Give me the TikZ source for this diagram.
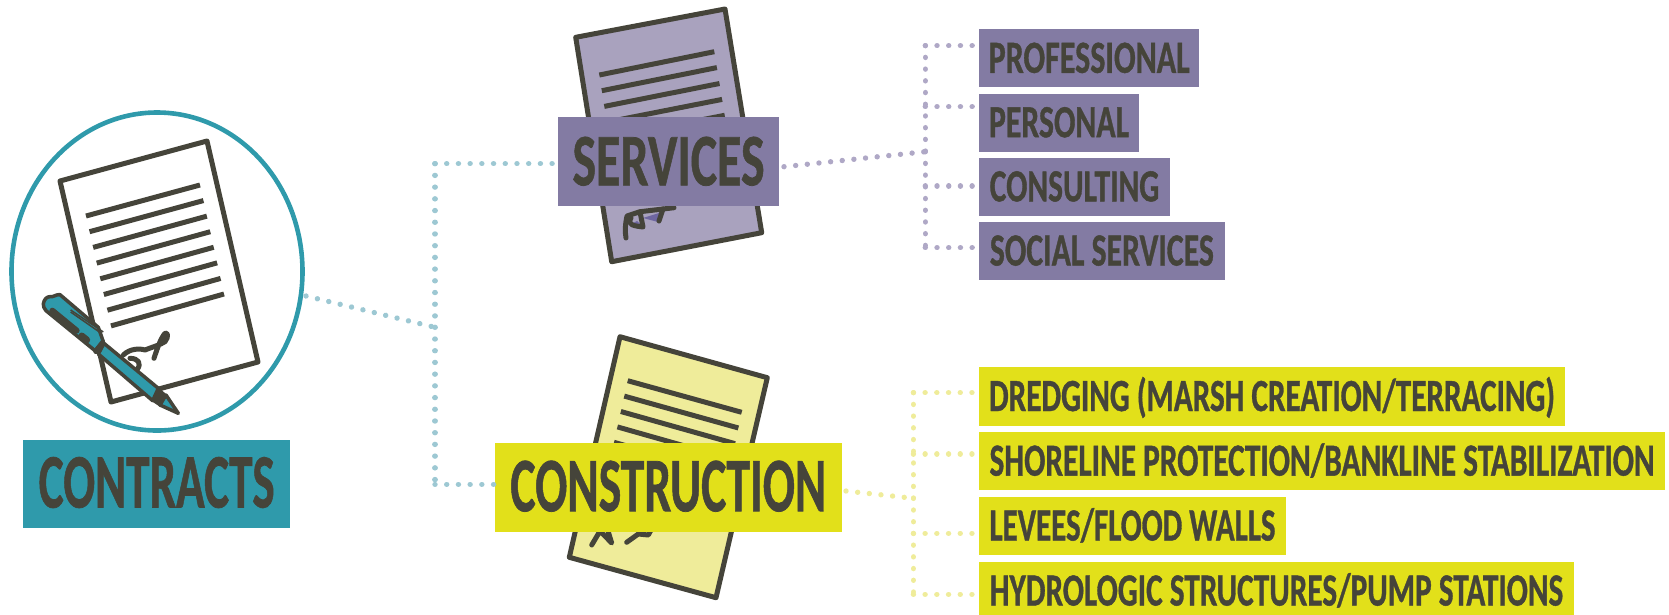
\documentclass[tikz,border=0pt]{standalone}
\usepackage{graphicx}
\usepackage{fontspec}
\setmainfont{Carlito}[BoldFeatures={FakeBold=1}]
\usetikzlibrary{shapes.geometric}
\definecolor{ink}{HTML}{45443A}
\definecolor{teal}{HTML}{2F9AAB}
\definecolor{tealdot}{HTML}{9DC8D3}
\definecolor{purp}{HTML}{837BA3}
\definecolor{purpdot}{HTML}{AFA8C6}
\definecolor{purplight}{HTML}{A9A2BE}
\definecolor{purpwedge}{HTML}{6E66A0}
\definecolor{yell}{HTML}{E2E01A}
\definecolor{yelllight}{HTML}{EFEC9A}
\newcommand{\fitlbl}[3]{\resizebox{#1pt}{\height}{\fontsize{#2}{#2}\selectfont\bfseries #3}}
\tikzset{
  tagbox/.style={rectangle,inner sep=0pt,outer sep=0pt,text=ink,anchor=center},
  smalltag/.style={tagbox,text height=29pt,text depth=0pt},
  bigtag/.style={tagbox,text height=47pt,text depth=0pt},
  dotline/.style={line width=5.4pt,line cap=round,dash pattern=on 0.01pt off 11.7pt},
  sheet/.style={draw=ink,line width=5pt,line join=round},
  rule/.style={draw=ink,line width=5pt},
  scrawl/.style={draw=ink,line width=5pt,line cap=round,line join=round},
  penpart/.style={draw=ink,line width=3.5pt,line join=round,fill=teal},
}
\begin{document}
\begin{tikzpicture}[x=1pt,y=-1pt]
\useasboundingbox (0,0) rectangle (1669,614);
% ---- contracts seal
\node[ellipse,draw=teal,line width=4.6pt,minimum width=291pt,minimum height=318pt,inner sep=0pt,outer sep=0pt] (seal) at (157,271.5) {};
\draw[sheet,fill=white] (60,181) -- (207,141) -- (258,362) -- (111,402) -- cycle;
\foreach \i in {0,...,7}{
  \draw[rule] ({86+\i*3.57},{216+\i*15.7}) -- ({200+\i*3.43},{185+\i*15.57});
}
\begin{scope}[shift={(30,280)},x=0.3333pt,y=-0.3333pt]
  \draw[scrawl] (280,225) .. controls (300,205) and (330,205) .. (345,210) .. controls (370,200) and (390,195) .. (405,185) .. controls (418,170) and (412,155) .. (405,160) .. controls (392,175) and (382,205) .. (372,235);
  \draw[scrawl] (300,235) .. controls (325,235) and (335,250) .. (322,268);
  \path[penpart] (222,190) -- (385,325) -- (368,362) -- (205,222) -- cycle;
  \path[draw=ink,fill=ink,line width=2pt,line join=round] (385,325) -- (412,350) -- (392,378) -- (368,362) -- cycle;
  \path[penpart] (408,345) -- (445,400) -- (390,375) -- cycle;
  \path[penpart] (40,72) .. controls (42,58) and (50,50) .. (60,50) .. controls (70,52) and (80,42) .. (90,44) -- (205,142) -- (220,185) -- (195,212) -- (48,92) .. controls (42,85) and (40,80) .. (40,72) -- cycle;
  \draw[ink,line width=5.5pt,line cap=round] (218,188) -- (198,214);
  \draw[ink,line width=6pt,line cap=round] (67,92) -- (140,152);
  \draw[ink,line width=7pt,line cap=round] (155,168) -- (170,180);
  \draw[ink,line width=1.5pt] (122,90) -- (220,156);
  \draw[ink,line width=1.5pt] (122,96) -- (214,160);
\end{scope}
% ---- services sheet
\draw[sheet,fill=purplight] (575.7,37.3) -- (725,9) -- (761.7,232.7) -- (611.7,261.7) -- cycle;
\foreach \i in {0,...,4}{
  \draw[rule] ({599.3+\i*2.5},{75+\i*15.7}) -- ({714.3+\i*2.6},{51.7+\i*15.9});
}
\fill[purpwedge] (643,218) -- (659,213) -- (658,222) -- cycle;
\fill[purpwedge] (631,224) -- (637,221) -- (642,226) -- cycle;
\draw[scrawl] (674,207.7) -- (640,211.7) -- (627,216) .. controls (625,225) and (625,232) .. (626,238);
\draw[scrawl] (631,218) .. controls (626,225) and (635,226) .. (643,227) -- (640,212);
\draw[scrawl] (663,209) -- (659,221);
% ---- construction sheet
\draw[sheet,fill=yelllight] (620,336.7) -- (767.3,377.7) -- (716,597.7) -- (569.3,557.3) -- cycle;
\foreach \i in {0,...,4}{
  \draw[rule] ({627.7-\i*3.43},{380.7+\i*15.4}) -- ({741.7-\i*3.33},{412.3+\i*15.67});
}
\draw[scrawl] (591.7,545) -- (600,531) -- (611.7,543) -- (608,531);
\draw[scrawl] (626.7,542.3) -- (638.3,534) -- (648.3,535) -- (651,530);
% ---- junctions
\coordinate (mainfork) at (435,327.3);
\coordinate (maintop) at (435,163.7);
\coordinate (mainbot) at (435,484.3);
\coordinate (sealout) at (306,296);
\coordinate (svcout) at (784,166.7);
\coordinate (svcfork) at (925.3,151.7);
\coordinate (conout) at (846,491);
\coordinate (confork) at (913.4,498.3);
\coordinate (st1) at (925.3,45.7);
\coordinate (st2) at (925.3,106.7);
\coordinate (st3) at (925.3,186);
\coordinate (st4) at (925.3,247.7);
\coordinate (ct1) at (913.4,392.7);
\coordinate (ct2) at (913.4,454);
\coordinate (ct3) at (913.4,533.3);
\coordinate (ct4) at (913.4,594.3);
% ---- boxes
\node[bigtag,fill=teal,minimum width=266.7pt,minimum height=88pt] (contracts) at (156.7,484) {\fitlbl{236}{77}{CONTRACTS}};
\node[bigtag,fill=purp,minimum width=221pt,minimum height=89pt] (services) at (668.5,161.8) {\fitlbl{192}{74}{SERVICES}};
\node[bigtag,fill=yell,minimum width=347.3pt,minimum height=88.7pt] (construction) at (668.35,487.65) {\fitlbl{316}{77}{CONSTRUCTION}};
\node[smalltag,fill=purp,minimum width=220.3pt,minimum height=58pt] (prof) at (1089.15,58.3) {\fitlbl{201}{46}{PROFESSIONAL}};
\node[smalltag,fill=purp,minimum width=160pt,minimum height=58pt] (pers) at (1059,122.7) {\fitlbl{140}{46}{PERSONAL}};
\node[smalltag,fill=purp,minimum width=191pt,minimum height=57.7pt] (cons) at (1074.5,186.85) {\fitlbl{169.5}{46}{CONSULTING}};
\node[smalltag,fill=purp,minimum width=245.7pt,minimum height=58pt] (soc) at (1101.85,251) {\fitlbl{224}{46}{SOCIAL SERVICES}};
\node[smalltag,fill=yell,minimum width=586pt,minimum height=58.4pt] (dred) at (1272,396.5) {\fitlbl{566}{46}{DREDGING (MARSH CREATION/TERRACING)}};
\node[smalltag,fill=yell,minimum width=686pt,minimum height=57.7pt] (shore) at (1322,461.15) {\fitlbl{665}{46}{SHORELINE PROTECTION/BANKLINE STABILIZATION}};
\node[smalltag,fill=yell,minimum width=307pt,minimum height=58pt] (lev) at (1132.5,526) {\fitlbl{286}{46}{LEVEES/FLOOD WALLS}};
\node[smalltag,fill=yell,minimum width=595pt,minimum height=58pt] (hyd) at (1276.5,591) {\fitlbl{573.5}{46}{HYDROLOGIC STRUCTURES/PUMP STATIONS}};
% ---- connectors
\draw[tealdot,dotline] (sealout) -- (mainfork);
\draw[tealdot,dotline] (maintop) -- (mainfork);
\draw[tealdot,dotline] (mainfork) -- (mainbot);
\draw[tealdot,dotline] (maintop) -- (maintop -| services.west);
\draw[tealdot,dotline] (mainbot) -- (mainbot -| construction.west);
\draw[purpdot,dotline] (svcout) -- (svcfork);
\draw[purpdot,dotline] (st1) -- (svcfork);
\draw[purpdot,dotline] (svcfork) -- (st4);
\draw[purpdot,dotline] (st1) -- (st1 -| prof.west);
\draw[purpdot,dotline] (st2) -- (st2 -| pers.west);
\draw[purpdot,dotline] (st3) -- (st3 -| cons.west);
\draw[purpdot,dotline] (st4) -- (st4 -| soc.west);
\draw[yelllight,dotline] (conout) -- (confork);
\draw[yelllight,dotline] (ct1) -- (confork);
\draw[yelllight,dotline] (confork) -- (ct4);
\draw[yelllight,dotline] (ct1) -- (ct1 -| dred.west);
\draw[yelllight,dotline] (ct2) -- (ct2 -| shore.west);
\draw[yelllight,dotline] (ct3) -- (ct3 -| lev.west);
\draw[yelllight,dotline] (ct4) -- (ct4 -| hyd.west);
\end{tikzpicture}
\end{document}
